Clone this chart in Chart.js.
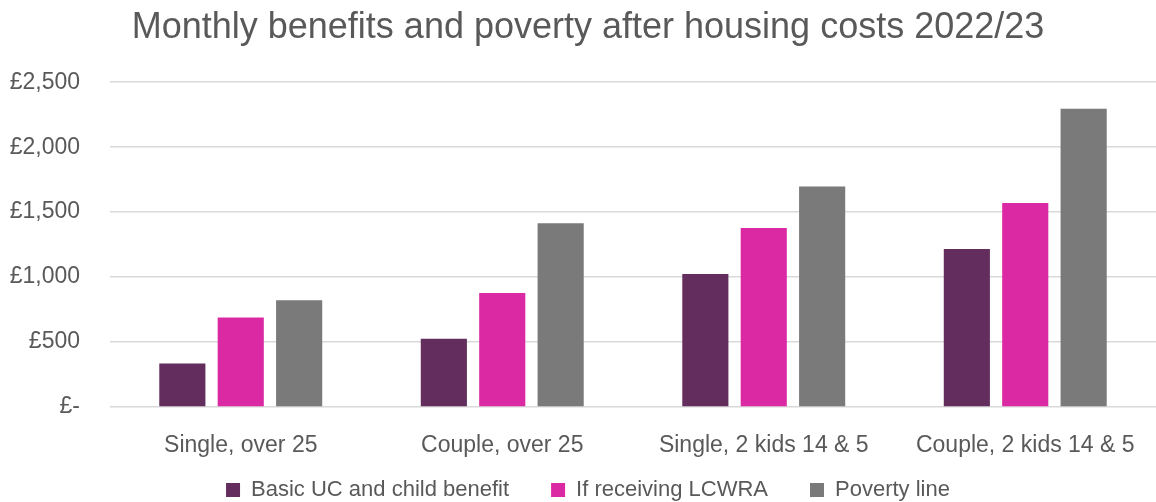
<!DOCTYPE html>
<html>
<head>
<meta charset="utf-8">
<script src="https://cdn.jsdelivr.net/npm/chart.js@4"></script>
<style>
  html, body { margin: 0; padding: 0; background: #fff; }
  #wrap { width: 1156px; height: 502px; }
</style>
</head>
<body>
<div id="wrap"><canvas id="benefits"></canvas></div>
<script>
const categories = ['Single, over 25', 'Couple, over 25', 'Single, 2 kids 14 & 5', 'Couple, 2 kids 14 & 5']
const basicUC = [334, 525, 1023, 1217]
const lcwra = [688, 877, 1378, 1570]
const povertyLine = [822, 1414, 1698, 2296]
const yTicks = [0, 500, 1000, 1500, 2000, 2500]

const grey = '#595959'

// legend is wide-spaced (padding 42), so lift its top back up after layout
const liftLegend = {
  id: 'liftLegend',
  afterLayout(chart) {
    chart.legend.top -= 27
  }
}

let chart = new Chart(document.getElementById('benefits'), {
  type: 'bar',
  data: {
    labels: categories,
    datasets: [
      { label: 'Basic UC and child benefit', data: basicUC, backgroundColor: '#632e5d' },
      { label: 'If receiving LCWRA', data: lcwra, backgroundColor: '#db29a3' },
      { label: 'Poverty line', data: povertyLine, backgroundColor: '#7a7a7a' }
    ]
  },
  plugins: [liftLegend],
  options: {
    responsive: true,
    maintainAspectRatio: false,
    animation: false,
    layout: { padding: { left: 8, right: -12, top: 4, bottom: 0 } },
    datasets: { bar: { categoryPercentage: 0.67, barPercentage: 0.79 } },
    plugins: {
      title: {
        display: true,
        text: 'Monthly benefits and poverty after housing costs 2022/23',
        color: grey,
        font: { family: 'Liberation Sans', size: 36, weight: 'normal' },
        padding: { top: 2, bottom: 33 }
      },
      legend: {
        position: 'bottom',
        maxHeight: 38,
        labels: {
          color: grey,
          font: { family: 'Liberation Sans', size: 22 },
          boxWidth: 14,
          boxHeight: 14,
          padding: 42
        }
      },
      tooltip: { enabled: false }
    },
    scales: {
      x: {
        grid: { display: false },
        border: { display: false },
        ticks: { color: grey, font: { family: 'Liberation Sans', size: 23 }, padding: 17 },
        afterFit: axis => { axis.height = 57 }
      },
      y: {
        min: 0,
        max: 2500,
        afterBuildTicks: axis => { axis.ticks = yTicks.map(v => ({ value: v })) },
        afterFit: axis => { axis.width = 102 },
        grid: { color: '#d9d9d9', lineWidth: 1.5, drawTicks: false },
        border: { display: false },
        ticks: {
          color: grey,
          font: { family: 'Liberation Sans', size: 23 },
          padding: 30,
          callback: v => v === 0 ? '£-' : '£' + v.toLocaleString('en-GB')
        }
      }
    }
  }
})
</script>
</body>
</html>
